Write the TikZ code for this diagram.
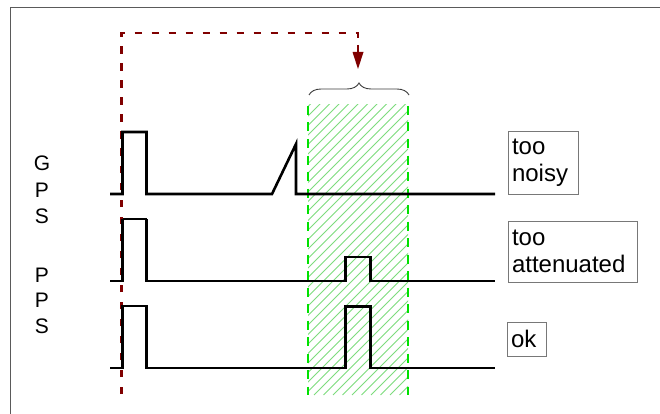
\documentclass[tikz,border=0pt]{standalone}
\usepackage{fontspec}
\setmainfont{Liberation Sans}
\usetikzlibrary{arrows.meta,decorations.pathreplacing}
\definecolor{darkred}{RGB}{128,0,0}
\definecolor{brightgreen}{RGB}{0,225,0}
\definecolor{hatchgreen}{RGB}{125,220,125}
\definecolor{framegray}{RGB}{90,90,90}
\definecolor{boxgray}{RGB}{120,120,120}
\definecolor{bracegray}{RGB}{60,60,60}
\begin{document}
\begin{tikzpicture}[x=1pt,y=-1pt,
  signal/.style={line width=2.6pt, black, line join=miter},
  thinsig/.style={line width=1.5pt, black},
  redline/.style={line width=2.8pt, darkred},
  reddash/.style={redline, dash pattern=on 7.5pt off 9.5pt},
  greendash/.style={line width=2.2pt, brightgreen, dash pattern=on 9pt off 7.5pt},
  hatchline/.style={line width=0.8pt, hatchgreen},
  letter/.style={font=\fontsize{21}{25}\selectfont, anchor=base, inner sep=0pt},
  lbl/.style={draw=boxgray, line width=1pt, align=left, inner xsep=4pt, inner ysep=0pt,
              font=\fontsize{24}{27}\selectfont},
  framestyle/.style={framegray, line width=1.3pt}
]
\useasboundingbox (0,0) rectangle (660,414);
\fill[white] (0,0) rectangle (660,414);
% frame
\draw[framestyle] (10.5,414) -- (10.5,7.5) -- (660,7.5);

% hatched window
\begin{scope}
  \clip (308,105) rectangle (408,395);
  \foreach \i in {0,...,42} {
    \draw[hatchline] (10+\i*9.5,395) -- ++(300,-300);
  }
\end{scope}
\coordinate (wl1) at (308,106);
\coordinate (wl2) at (308,395);
\coordinate (wr1) at (408,106);
\coordinate (wr2) at (408,395);
\draw[greendash] (wl1) -- (wl2);
\draw[greendash] (wr1) -- (wr2);

% brace
\coordinate (bl) at (309,95);
\coordinate (br) at (409,95);
\draw[bracegray, line width=0.9pt, decorate, decoration={brace, amplitude=12pt}] (bl) -- (br);

% red dashed reference
\coordinate (rbot) at (121.5,394);
\coordinate (rtop) at (121.5,33);
\coordinate (rcorner) at (358,33);
\coordinate (rstem) at (358,45);
\coordinate (rhead) at (358,53);
\coordinate (rtip) at (358,69);
\draw[reddash] (rbot) -- (rtop) -- (rcorner) -- (358,38);
\draw[redline] (rstem) -- (rhead);
\fill[darkred] (rtip) -- (352.5,52) -- (363.5,52) -- cycle;

% signals
\draw[signal] (110,194) -- (122.5,194) -- (122.5,132) -- (146.5,132) -- (146.5,194)
  -- (272,194) -- (296,144) -- (296,194) -- (495,194);
\draw[signal] (110,281) -- (122.5,281) -- (122.5,219);
\draw[thinsig] (122.5,219) -- (146.5,219);
\draw[signal] (146.5,219) -- (146.5,281) -- (345.5,281) -- (345.5,257) -- (370.5,257)
  -- (370.5,281) -- (495,281);
\draw[signal] (110,368) -- (122.5,368) -- (122.5,306) -- (146.5,306) -- (146.5,368)
  -- (345.5,368) -- (345.5,306.5) -- (370.5,306.5) -- (370.5,368) -- (495,368);

% side letters
\node[letter] (g1) at (42,170) {G};
\node[letter] (g2) at (42,197) {P};
\node[letter] (g3) at (42,223) {S};
\node[letter] (p1) at (42,282) {P};
\node[letter] (p2) at (42,307) {P};
\node[letter] (p3) at (42,333) {S};

% labels
\node[lbl, minimum width=70pt, minimum height=62pt, text width=62pt] (noisy) at (543,163) {too\\noisy};
\node[lbl, minimum width=129pt, minimum height=61pt, text width=121pt] (atten) at (572.5,251.5) {too\\attenuated};
\node[lbl, minimum width=39pt, minimum height=34pt, text width=31pt] (ok) at (526.5,339) {ok};
\end{tikzpicture}
\end{document}
